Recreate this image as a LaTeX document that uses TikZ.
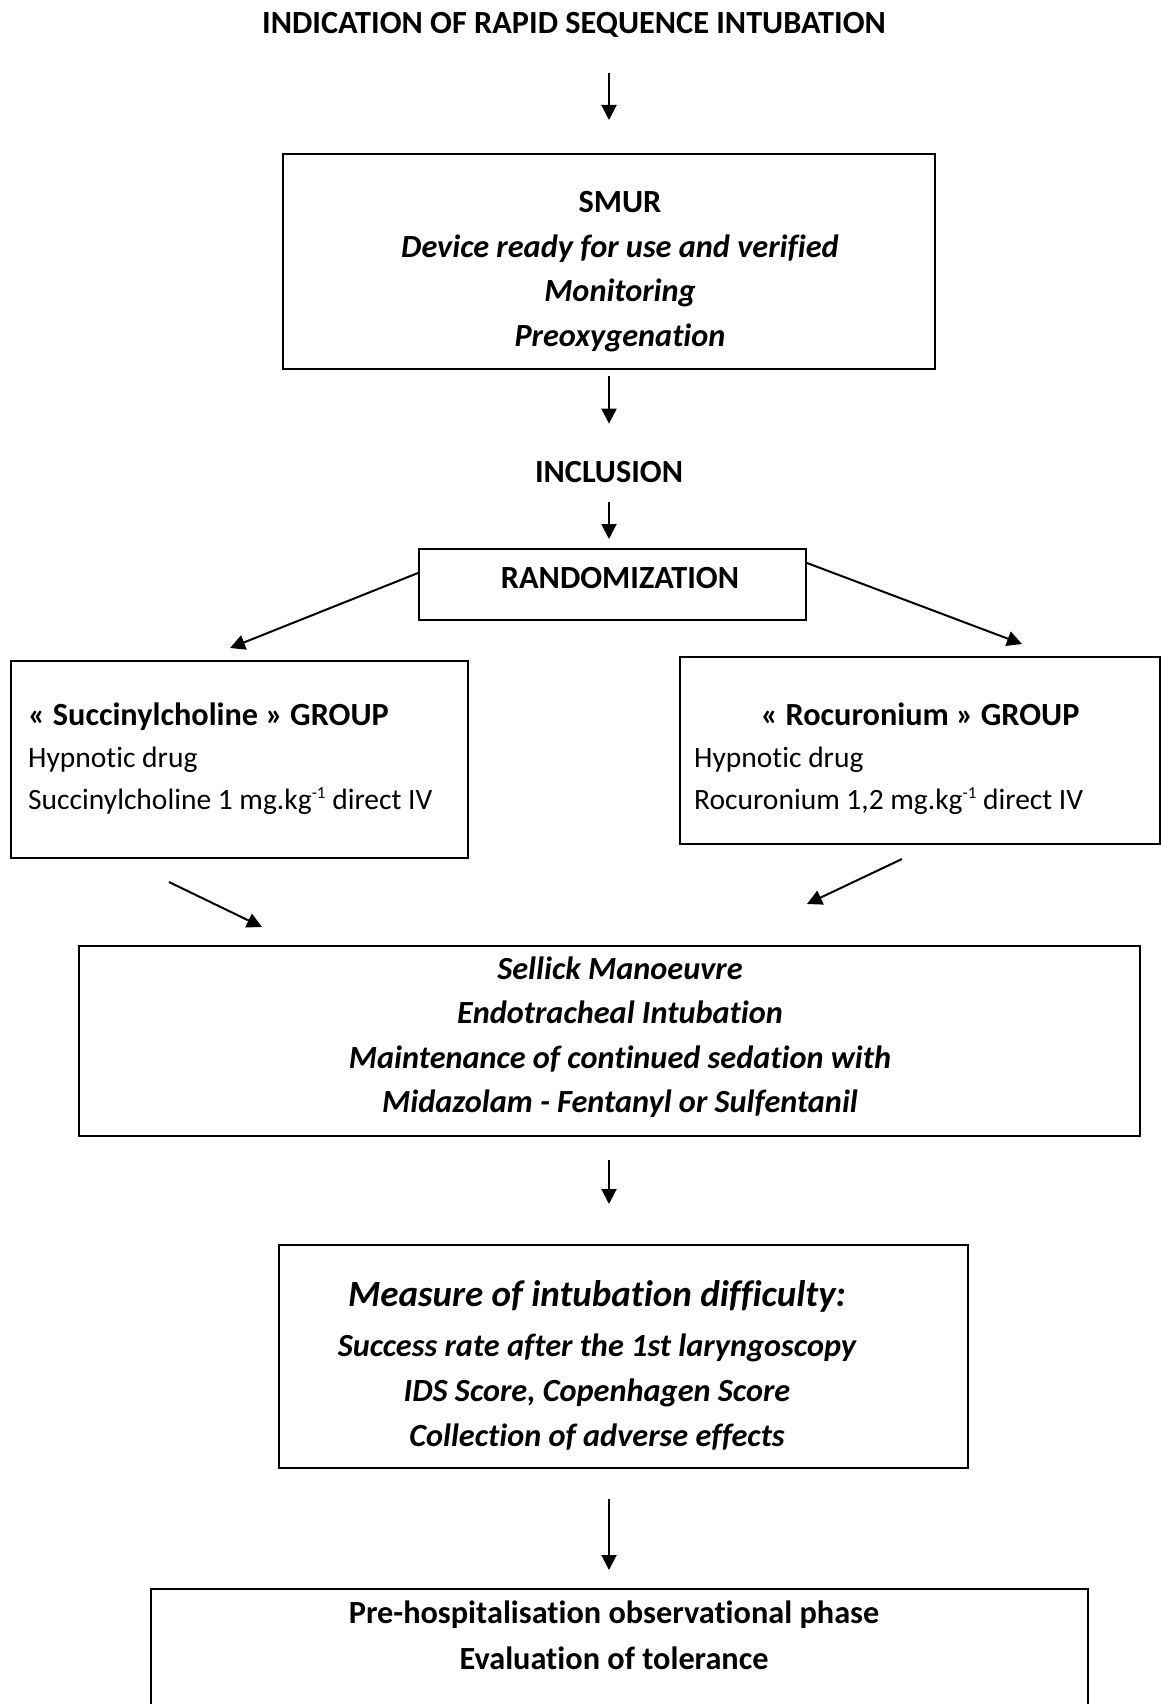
\documentclass[tikz,border=0pt]{standalone}
\usepackage{fontspec}
\setmainfont{Carlito}[Ligatures=NoCommon]
\usetikzlibrary{arrows.meta, positioning}

\newcommand{\bigbf}{\fontsize{32.3}{44.5}\selectfont\bfseries}
\newcommand{\minus}[1]{\raisebox{0.75ex}{\fontsize{17}{17}\selectfont #1}}

\tikzset{
  box/.style={draw, rectangle, line width=2pt, inner sep=0pt},
  txt/.style={inner sep=0pt, font=\fontsize{29.5}{45}\selectfont},
  arr/.style={line width=2pt, -{Triangle[length=15pt,width=15pt]}}
}

\begin{document}
\begin{tikzpicture}[x=1pt, y=-1pt]
    \useasboundingbox (0,0) rectangle (1160,1704);

    % Title and first box
    \node[txt, anchor=base, font=\bigbf] (title) at (574,34) {INDICATION OF RAPID SEQUENCE INTUBATION};
    \node[box, minimum width=652pt, minimum height=215pt] (smur) at (609,261.5) {};
    \node[txt, anchor=north, align=center, font=\bigbf] (smurtxt) at (620,191.5) {SMUR\\ \textit{Device ready for use and verified}\\ \textit{Monitoring}\\ \textit{Preoxygenation}};

    \node[txt, anchor=base, font=\bigbf] (incl) at (609,482) {INCLUSION};

    % Randomization
    \node[box, minimum width=387pt, minimum height=71pt] (rand) at (612.5,584.5) {};
    \node[txt, anchor=base, font=\bigbf] (randtxt) at (620,588.5) {RANDOMIZATION};

    % Groups
    \node[box, minimum width=457pt, minimum height=197pt] (sux) at (239.5,759.5) {};
    \node[txt, anchor=north west, align=left, font=\fontsize{29.5}{42}\selectfont] (suxtxt) at (28,702.5) {{\bigbf « Succinylcholine » GROUP}\\ Hypnotic drug\\ Succinylcholine 1 mg.kg\minus{-1} direct IV};

    \node[box, minimum width=480pt, minimum height=187pt] (roc) at (920,750.5) {};
    \node[txt, anchor=north west, align=left, font=\fontsize{29.5}{42}\selectfont] (roctxt) at (694,702.5) {\makebox[452pt]{\bigbf « Rocuronium » GROUP}\\ Hypnotic drug\\ Rocuronium 1,2 mg.kg\minus{-1} direct IV};

    % Intubation
    \node[box, minimum width=1061pt, minimum height=190pt] (sellick) at (609.5,1041) {};
    \node[txt, anchor=north, align=center, font=\bigbf\itshape] (sellicktxt) at (620,956.5) {Sellick Manoeuvre\\ Endotracheal Intubation\\ Maintenance of continued sedation with\\ Midazolam - Fentanyl or Sulfentanil};

    % Measures
    \node[box, minimum width=689pt, minimum height=223pt] (measure) at (623.5,1356.5) {};
    \node[txt, anchor=north, align=center, font=\fontsize{32.3}{45}\selectfont\bfseries\itshape] (measuretxt) at (597,1280) {{\fontsize{37}{42}\selectfont Measure of intubation difficulty:}\\[5pt] Success rate after the 1st laryngoscopy\\ IDS Score, Copenhagen Score\\ Collection of adverse effects};

    % Observational phase
    \node[box, minimum width=937pt, minimum height=180pt] (obs) at (619.5,1679) {};
    \node[txt, anchor=north, align=center, font=\fontsize{32.3}{46}\selectfont\bfseries] (obstxt) at (614,1600.5) {Pre-hospitalisation observational phase\\ Evaluation of tolerance};

    % Connecting arrows
    \draw[arr, shorten <=39pt, shorten >=33pt] (incl |- title.base) -- (incl |- smur.north);
    \draw[arr, shorten <=6pt, shorten >=37pt] (incl |- smur.south) -- (incl.north);
    \draw[arr, shorten <=20pt, shorten >=9pt] (incl.base) -- (incl |- rand.north);
    \draw[arr] ([yshift=11.5pt]rand.west) -- ([xshift=-9.5pt, yshift=12pt]sux.north);
    \draw[arr] ([yshift=21.5pt]rand.east) -- ([xshift=102pt, yshift=12pt]roc.north);
    \draw[arr] ([xshift=-70.5pt, yshift=-23pt]sux.south) -- ([xshift=-347.5pt, yshift=18pt]sellick.north);
    \draw[arr] ([xshift=-18pt, yshift=-14pt]roc.south) -- ([xshift=197.5pt, yshift=41pt]sellick.north);
    \draw[arr, shorten <=23pt, shorten >=40pt] (incl |- sellick.south) -- (incl |- measure.north);
    \draw[arr, shorten <=30pt, shorten >=18pt] (incl |- measure.south) -- (incl |- obs.north);
\end{tikzpicture}
\end{document}
